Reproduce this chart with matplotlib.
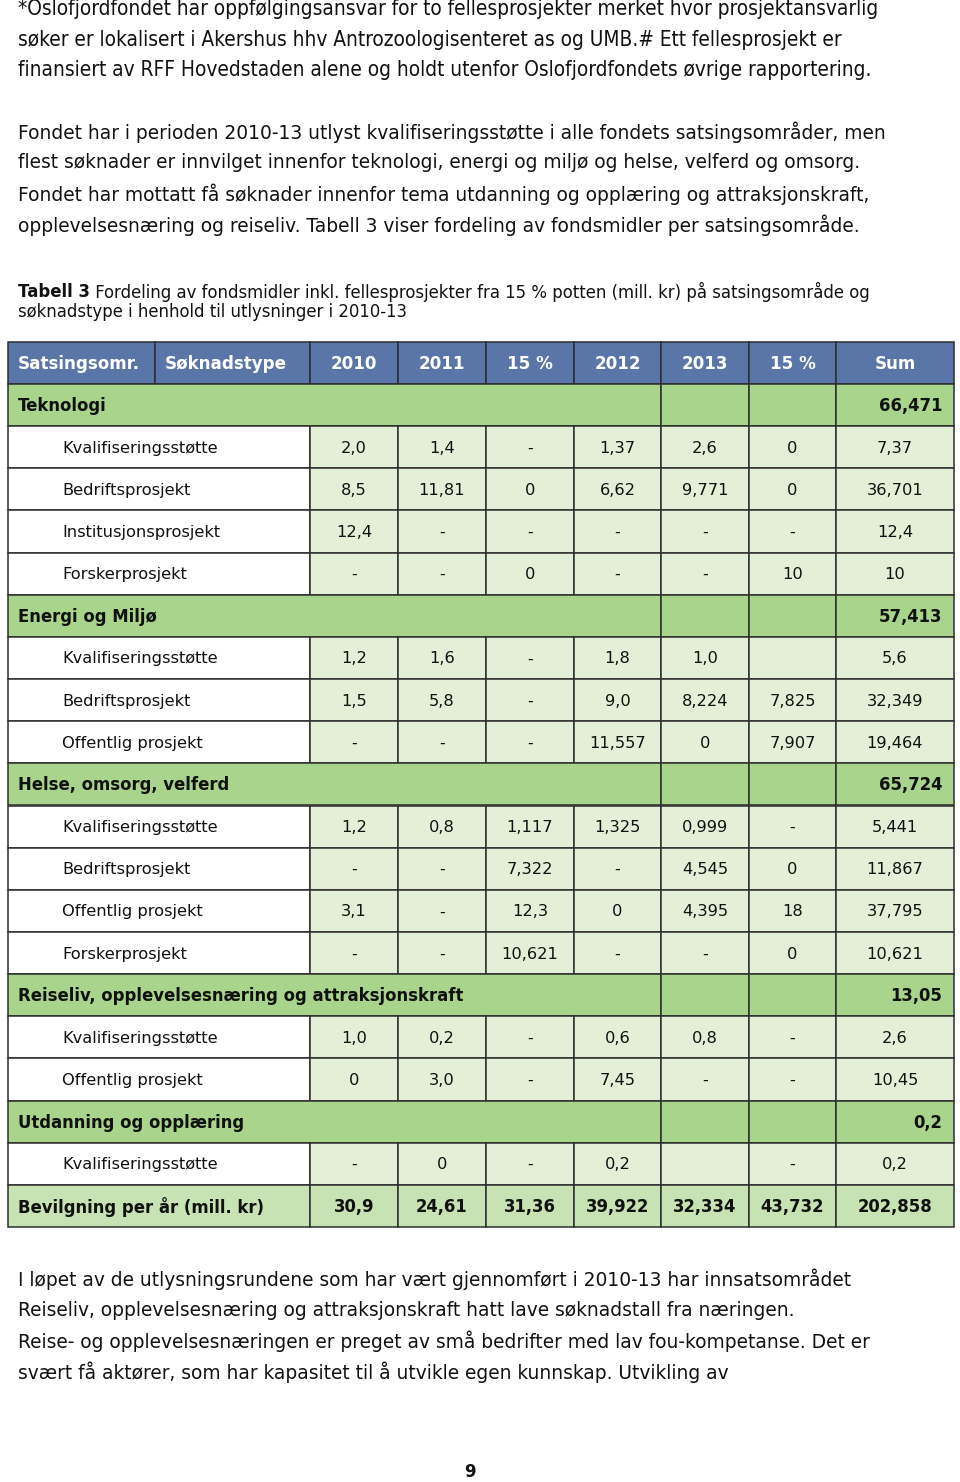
import matplotlib
matplotlib.use("Agg")
import matplotlib.pyplot as plt
from matplotlib import font_manager
from matplotlib.patches import Rectangle

# ---- data ----
columns = ["Satsingsomr.", "Søknadstype", "2010", "2011", "15 %", "2012", "2013", "15 %", "Sum"]

categories = ["Teknologi", "Energi og Miljø", "Helse, omsorg, velferd",
              "Reiseliv, opplevelsesnæring og attraksjonskraft", "Utdanning og opplæring"]
category_sums = ["66,471", "57,413", "65,724", "13,05", "0,2"]

teknologi = [
    ("Kvalifiseringsstøtte", ["2,0", "1,4", "-", "1,37", "2,6", "0", "7,37"]),
    ("Bedriftsprosjekt", ["8,5", "11,81", "0", "6,62", "9,771", "0", "36,701"]),
    ("Institusjonsprosjekt", ["12,4", "-", "-", "-", "-", "-", "12,4"]),
    ("Forskerprosjekt", ["-", "-", "0", "-", "-", "10", "10"]),
]
energi = [
    ("Kvalifiseringsstøtte", ["1,2", "1,6", "-", "1,8", "1,0", "", "5,6"]),
    ("Bedriftsprosjekt", ["1,5", "5,8", "-", "9,0", "8,224", "7,825", "32,349"]),
    ("Offentlig prosjekt", ["-", "-", "-", "11,557", "0", "7,907", "19,464"]),
]
helse = [
    ("Kvalifiseringsstøtte", ["1,2", "0,8", "1,117", "1,325", "0,999", "-", "5,441"]),
    ("Bedriftsprosjekt", ["-", "-", "7,322", "-", "4,545", "0", "11,867"]),
    ("Offentlig prosjekt", ["3,1", "-", "12,3", "0", "4,395", "18", "37,795"]),
    ("Forskerprosjekt", ["-", "-", "10,621", "-", "-", "0", "10,621"]),
]
reiseliv = [
    ("Kvalifiseringsstøtte", ["1,0", "0,2", "-", "0,6", "0,8", "-", "2,6"]),
    ("Offentlig prosjekt", ["0", "3,0", "-", "7,45", "-", "-", "10,45"]),
]
utdanning = [
    ("Kvalifiseringsstøtte", ["-", "0", "-", "0,2", "", "-", "0,2"]),
]
groups = [teknologi, energi, helse, reiseliv, utdanning]

total_label = "Bevilgning per år (mill. kr)"
totals = ["30,9", "24,61", "31,36", "39,922", "32,334", "43,732", "202,858"]

para1 = ["*Oslofjordfondet har oppfølgingsansvar for to fellesprosjekter merket hvor prosjektansvarlig",
         "søker er lokalisert i Akershus hhv Antrozoologisenteret as og UMB.# Ett fellesprosjekt er",
         "finansiert av RFF Hovedstaden alene og holdt utenfor Oslofjordfondets øvrige rapportering."]
para2 = ["Fondet har i perioden 2010-13 utlyst kvalifiseringsstøtte i alle fondets satsingsområder, men",
         "flest søknader er innvilget innenfor teknologi, energi og miljø og helse, velferd og omsorg.",
         "Fondet har mottatt få søknader innenfor tema utdanning og opplæring og attraksjonskraft,",
         "opplevelsesnæring og reiseliv. Tabell 3 viser fordeling av fondsmidler per satsingsområde."]
caption_bold = "Tabell 3"
caption = [" Fordeling av fondsmidler inkl. fellesprosjekter fra 15 % potten (mill. kr) på satsingsområde og",
           "søknadstype i henhold til utlysninger i 2010-13"]
para3 = ["I løpet av de utlysningsrundene som har vært gjennomført i 2010-13 har innsatsområdet",
         "Reiseliv, opplevelsesnæring og attraksjonskraft hatt lave søknadstall fra næringen.",
         "Reise- og opplevelsesnæringen er preget av små bedrifter med lav fou-kompetanse. Det er",
         "svært få aktører, som har kapasitet til å utvikle egen kunnskap. Utvikling av"]
page_no = "9"

# ---- fonts ----
names = {(f.name, f.stretch) for f in font_manager.fontManager.ttflist}
if any(n == "Liberation Sans Narrow" for n, s in names):
    narrow = dict(family="Liberation Sans Narrow")
elif ("DejaVu Sans", "condensed") in names:
    narrow = dict(family="DejaVu Sans", fontstretch="condensed")
else:
    narrow = dict(family="DejaVu Sans")

plt.rcParams["font.family"] = "DejaVu Sans"

W, H = 960, 1482
fig = plt.figure(figsize=(W / 100, H / 100), dpi=100)
ax = fig.add_axes([0, 0, 1, 1])
ax.set_xlim(0, W)
ax.set_ylim(H, 0)
ax.axis("off")
ink = "#111111"


def text_width(t):
    fig.canvas.draw()
    return t.get_window_extent().width


def paragraph(lines, x, y0, dy, right, size=12.0, **kw):
    # size the font so that the first line ends at `right`
    probe = ax.text(x, y0, lines[0], fontsize=size, **kw)
    size = size * (right - x) / text_width(probe)
    probe.remove()
    for i, line in enumerate(lines):
        ax.text(x, y0 + dy * i, line, va="center", ha="left", fontsize=size, color=ink, **kw)
    return size


paragraph(para1, 18, 9, 30.7, 883, **narrow)
body = paragraph(para2, 18, 132, 31, 886)
for i, line in enumerate(para3):
    ax.text(18, 1279 + 31 * i, line, va="center", ha="left", fontsize=body, color=ink)

cap = 11.9
t = ax.text(18, 292, caption_bold, va="center", ha="left", fontsize=cap, fontweight="bold", color=ink)
bw = text_width(t)
ax.text(18 + bw, 292, caption[0], va="center", ha="left", fontsize=cap, color=ink)
ax.text(18, 312, caption[1], va="center", ha="left", fontsize=cap, color=ink)

ax.text(470, 1472, page_no, va="center", ha="center", fontsize=12, fontweight="bold", color=ink)

# ---- table ----
col_x = [8, 155, 310, 398, 486, 574, 661, 749, 836, 954]
head_top, head_bot = 342, 384
row_h = 42.15
header_c = "#5a76a8"
cat_c = "#a9d48b"
cell_c = "#e4efd8"
total_c = "#c8e3b3"
edge = "#2e2e2e"
lw = 1.1
fs = 11.7
hfs = 12.1
bfs = 11.9


def cell(x0, x1, y0, y1, fc):
    ax.add_patch(Rectangle((x0, y0), x1 - x0, y1 - y0, facecolor=fc, edgecolor=edge, linewidth=lw))


for j, name in enumerate(columns):
    cell(col_x[j], col_x[j + 1], head_top, head_bot, header_c)
    yc = (head_top + head_bot) / 2 + 1
    if j < 2:
        ax.text(col_x[j] + 10, yc, name, va="center", ha="left", color="white",
                fontsize=hfs, fontweight="bold")
    else:
        ax.text((col_x[j] + col_x[j + 1]) / 2, yc, name, va="center", ha="center", color="white",
                fontsize=hfs, fontweight="bold")

r = 0
for cat, csum, rows in zip(categories, category_sums, groups):
    y0 = head_bot + r * row_h
    y1 = y0 + row_h
    yc = (y0 + y1) / 2 + 1
    cell(col_x[0], col_x[6], y0, y1, cat_c)
    cell(col_x[6], col_x[7], y0, y1, cat_c)
    cell(col_x[7], col_x[8], y0, y1, cat_c)
    cell(col_x[8], col_x[9], y0, y1, cat_c)
    ax.text(18, yc, cat, va="center", ha="left", fontsize=bfs, fontweight="bold", color=ink)
    ax.text(col_x[9] - 12, yc, csum, va="center", ha="right", fontsize=bfs, fontweight="bold", color=ink)
    r += 1
    for label, vals in rows:
        y0 = head_bot + r * row_h
        y1 = y0 + row_h
        yc = (y0 + y1) / 2 + 1
        cell(col_x[0], col_x[2], y0, y1, "white")
        ax.text(62, yc, label, va="center", ha="left", fontsize=fs, color=ink)
        for k, v in enumerate(vals):
            cell(col_x[k + 2], col_x[k + 3], y0, y1, cell_c)
            ax.text((col_x[k + 2] + col_x[k + 3]) / 2, yc, v, va="center", ha="center",
                    fontsize=fs, color=ink)
        r += 1

y0 = head_bot + r * row_h
y1 = 1227
yc = (y0 + y1) / 2 + 1
cell(col_x[0], col_x[2], y0, y1, total_c)
ax.text(18, yc, total_label, va="center", ha="left", fontsize=bfs, fontweight="bold", color=ink)
for k, v in enumerate(totals):
    cell(col_x[k + 2], col_x[k + 3], y0, y1, total_c)
    ax.text((col_x[k + 2] + col_x[k + 3]) / 2, yc, v, va="center", ha="center",
            fontsize=bfs, fontweight="bold", color=ink)

fig.savefig("out.png", dpi=100)
